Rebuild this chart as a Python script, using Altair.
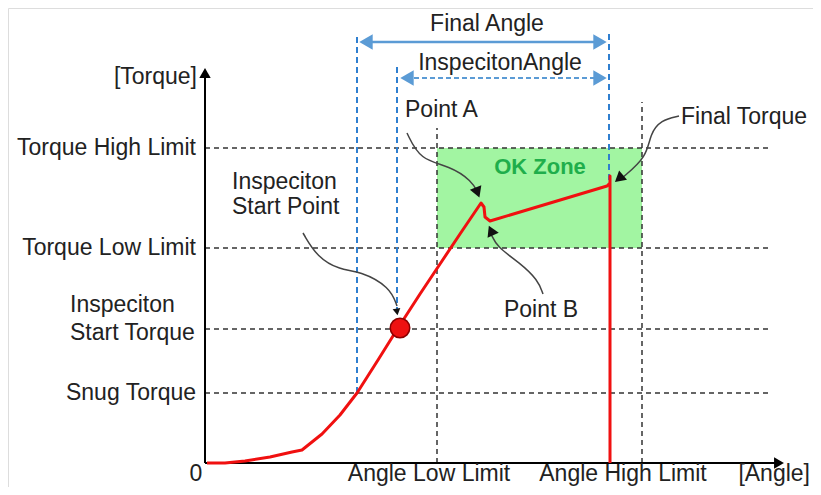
import altair as alt
import pandas as pd

FONT = "Liberation Sans"
TXT = "#222222"
BLUE = "#2f7fd0"
ARROW_BLUE = "#5b9bd5"

# ---- reference levels (diagram units: angle / torque) ----
torque_names = ["Torque High Limit", "Torque Low Limit", "Inspeciton Start Torque", "Snug Torque"]
torque_values = [315, 215, 134, 70]
angle_names = ["Angle Low Limit", "Angle High Limit"]
angle_values = [232, 437]
angle_tops = [335, 361]

blue_angles = [152, 192, 404]       # final angle start, inspection start, final angle end
blue_tops = [430, 397, 430]
blue_bottoms = [70, 150, 283]

# ---- tightening curve ----
curve_angle = [2, 20, 40, 65, 87, 97, 117, 135, 152, 173, 193, 215, 235, 255, 276, 279, 280, 285, 402, 405, 405, 405]
curve_torque = [0, 0, 2, 6, 11, 13, 29, 48, 70, 103, 135, 169, 199, 229, 260, 256, 246, 242, 277, 280, 287, 0]

insp_point = (195, 135)

# ---- OK zone ----
ok_zone = dict(a1=232, a2=437, t1=215, t2=315)

# ---- annotation leader curves ----
leaders = {
    "A": ([202, 215, 245, 267, 273], [330, 303, 297, 282, 270]),
    "FT": ([474, 456, 445, 442, 417], [347, 343, 329, 306, 285]),
    "B": ([338, 333, 315, 292, 286], [169, 183, 200, 216, 229]),
    "IS": ([98, 112, 135, 155, 185, 192], [230, 206, 193, 192, 176, 157]),
}
head_a = [272.5, 414, 286, 192]
head_t = [270.5, 284.5, 232.5, 151]
head_ang = [159, 230, 336, 171]
head_size = [150, 150, 150, 60]

# ---- text labels ----
lab_text = ["Torque High Limit", "Torque Low Limit", "Inspeciton", "Start Torque", "Snug Torque", "0",
            "Angle Low Limit", "Angle High Limit", "[Angle]", "[Torque]", "Final Angle", "InspecitonAngle",
            "Point A", "Final Torque", "Inspeciton", "Start Point", "Point B"]
lab_a = [-9, -9, -135, -135, -9, -9, 224, 418, 605, -8, 282, 295, 200, 476, 27, 27, 336]
lab_t = [315, 215, 158, 130, 70, -11, -11, -11, -11, 386, 439, 400, 353, 346, 281, 256, 153]
lab_align = ["right", "right", "left", "left", "right", "center", "center", "center", "right", "right",
             "center", "center", "left", "left", "left", "left", "center"]

W, H = 805, 479
xs = alt.Scale(domain=[-197, 608])
ys = alt.Scale(domain=[-24, 455])


def X(f, **k):
    return alt.X(f, type="quantitative", scale=xs, axis=None, **k)


def Y(f, **k):
    return alt.Y(f, type="quantitative", scale=ys, axis=None, **k)


layers = []

# green zone
zone_df = pd.DataFrame([ok_zone])
layers.append(alt.Chart(zone_df).mark_rect(color="#a2f5a2").encode(
    x=X("a1"), x2="a2", y=Y("t1"), y2="t2"))

# horizontal dashed black lines
hdf = pd.DataFrame({"name": torque_names, "t": torque_values, "a1": 0, "a2": 567})
layers.append(alt.Chart(hdf).mark_rule(color="#333333", strokeDash=[5, 4], strokeWidth=1.5).encode(
    x=X("a1"), x2="a2", y=Y("t"), y2="t"))

# vertical dashed black lines
vdf = pd.DataFrame({"name": angle_names, "a": angle_values, "t1": 0, "t2": angle_tops})
layers.append(alt.Chart(vdf).mark_rule(color="#333333", strokeDash=[5, 4], strokeWidth=1.5).encode(
    x=X("a"), x2="a", y=Y("t1"), y2="t2"))

# vertical dashed blue lines
bdf = pd.DataFrame({"a": blue_angles, "t1": blue_bottoms, "t2": blue_tops})
layers.append(alt.Chart(bdf).mark_rule(color=BLUE, strokeDash=[6, 4], strokeWidth=2).encode(
    x=X("a"), x2="a", y=Y("t1"), y2="t2"))

# angle arrows
fa = pd.DataFrame({"a1": [160], "a2": [396], "t": [421]})
layers.append(alt.Chart(fa).mark_rule(color=ARROW_BLUE, strokeWidth=2.5).encode(
    x=X("a1"), x2="a2", y=Y("t"), y2="t"))
ia = pd.DataFrame({"a1": [201], "a2": [396], "t": [385]})
layers.append(alt.Chart(ia).mark_rule(color=ARROW_BLUE, strokeWidth=2, strokeDash=[5, 3]).encode(
    x=X("a1"), x2="a2", y=Y("t"), y2="t"))
ahead = pd.DataFrame({"a": [161, 395, 202, 395], "t": [421, 421, 385, 385], "ang": [270, 90, 270, 90]})
layers.append(alt.Chart(ahead).mark_point(shape="triangle-up", filled=True, opacity=1, color=ARROW_BLUE, size=240).encode(
    x=X("a"), y=Y("t"), angle=alt.Angle("ang:Q", scale=None)))

# axes
axdf = pd.DataFrame({"a1": [0, 0], "a2": [0, 572], "t1": [0, 0], "t2": [388, 0]})
layers.append(alt.Chart(axdf).mark_rule(color="black", strokeWidth=2).encode(
    x=X("a1"), x2="a2", y=Y("t1"), y2="t2"))
axhead = pd.DataFrame({"a": [0, 574], "t": [390, 0], "ang": [0, 90]})
layers.append(alt.Chart(axhead).mark_point(shape="triangle-up", filled=True, opacity=1, color="black", size=130).encode(
    x=X("a"), y=Y("t"), angle=alt.Angle("ang:Q", scale=None)))

# red curve
cdf = pd.DataFrame({"a": curve_angle, "t": curve_torque, "o": list(range(len(curve_angle)))})
layers.append(alt.Chart(cdf).mark_line(color="#f01010", strokeWidth=3, strokeJoin="round").encode(
    x=X("a"), y=Y("t"), order="o:Q"))

# inspection start point
pdf = pd.DataFrame({"a": [insp_point[0]], "t": [insp_point[1]]})
layers.append(alt.Chart(pdf).mark_point(shape="circle", filled=True, opacity=1, color="#ee1111",
                                        stroke="#8b0000", strokeWidth=1.5, size=380).encode(
    x=X("a"), y=Y("t")))

# leader curves
rows = []
for k, (aa, tt) in leaders.items():
    for i, (a, t) in enumerate(zip(aa, tt)):
        rows.append({"g": k, "a": a, "t": t, "o": i})
ldf = pd.DataFrame(rows)
layers.append(alt.Chart(ldf).mark_line(color="#444444", strokeWidth=1.5, interpolate="basis").encode(
    x=X("a"), y=Y("t"), detail="g:N", order="o:Q"))
hdf2 = pd.DataFrame({"a": head_a, "t": head_t, "ang": head_ang, "s": head_size})
layers.append(alt.Chart(hdf2).mark_point(shape="triangle-up", filled=True, opacity=1, color="#111111").encode(
    x=X("a"), y=Y("t"), angle=alt.Angle("ang:Q", scale=None), size=alt.Size("s:Q", scale=None)))

# text labels
tdf = pd.DataFrame({"text": lab_text, "a": lab_a, "t": lab_t, "align": lab_align})
for al in ["left", "center", "right"]:
    sub = tdf[tdf["align"] == al]
    layers.append(alt.Chart(sub).mark_text(align=al, baseline="middle", font=FONT, fontSize=23, color=TXT).encode(
        x=X("a"), y=Y("t"), text="text:N"))

okdf = pd.DataFrame({"text": ["OK Zone"], "a": [335], "t": [296]})
layers.append(alt.Chart(okdf).mark_text(align="center", baseline="middle", font=FONT, fontSize=22,
                                        fontWeight="bold", color="#1fae4b").encode(
    x=X("a"), y=Y("t"), text="text:N"))

chart = alt.layer(*layers).properties(width=W, height=H, autosize="none", padding=0).configure_view(
    stroke=None).configure(background="white")

chart.save("out.html", embed_options={"renderer": "svg", "actions": False})
